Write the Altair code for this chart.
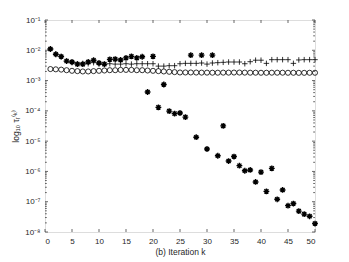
import altair as alt
import pandas as pd

# ---- data ----
k = list(range(1, 51))

star = [1.1e-2, 7.4e-3, 6.2e-3, 4.4e-3, 4.1e-3, 3.5e-3, 3.5e-3, 4.1e-3, 4.7e-3, 3.8e-3,
        3.5e-3, 5.0e-3, 5.1e-3, 4.8e-3, 5.6e-3, 6.3e-3, 5.6e-3, 6.1e-3, 4.2e-4, 6.3e-3,
        1.3e-4, 7.4e-4, 9.8e-5, 8.1e-5, 8.5e-5, 6.2e-5, 6.9e-3, 1.35e-5, 6.9e-3, 5.5e-6,
        6.9e-3, 3.3e-6, 3.2e-5, 2.2e-6, 3.1e-6, 1.55e-6, 1.05e-6, 1.12e-6, 4.5e-7, 9.5e-7,
        2.2e-7, 1.26e-6, 1.2e-7, 2.45e-7, 7.4e-8, 8.7e-8, 4.9e-8, 3.9e-8, 3.3e-8, 1.9e-8]

plus = [1.1e-2, 7.4e-3, 6.2e-3, 4.4e-3, 3.9e-3, 3.6e-3, 3.7e-3, 3.6e-3, 3.9e-3, 3.5e-3,
        3.4e-3, 3.6e-3, 3.5e-3, 3.5e-3, 3.6e-3, 3.5e-3, 3.6e-3, 3.6e-3, 3.6e-3, 3.6e-3,
        3.0e-3, 3.0e-3, 3.1e-3, 3.1e-3, 3.6e-3, 3.7e-3, 3.7e-3, 3.7e-3, 3.8e-3, 3.5e-3,
        3.8e-3, 3.9e-3, 4.0e-3, 4.1e-3, 4.1e-3, 4.1e-3, 3.6e-3, 4.2e-3, 4.7e-3, 4.7e-3,
        3.7e-3, 4.9e-3, 4.9e-3, 4.9e-3, 4.9e-3, 3.7e-3, 4.8e-3, 4.9e-3, 4.9e-3, 4.9e-3]

circ = [2.4e-3, 2.35e-3, 2.3e-3, 2.2e-3, 2.1e-3, 2.05e-3, 2.0e-3, 2.0e-3, 2.05e-3, 2.1e-3,
        2.15e-3, 2.2e-3, 2.2e-3, 2.25e-3, 2.25e-3, 2.25e-3, 2.2e-3, 2.2e-3, 2.15e-3, 2.1e-3,
        2.05e-3, 2.0e-3, 1.95e-3, 1.9e-3, 1.85e-3, 1.85e-3, 1.85e-3, 1.84e-3, 1.83e-3, 1.83e-3,
        1.82e-3, 1.82e-3, 1.83e-3, 1.83e-3, 1.84e-3, 1.84e-3, 1.83e-3, 1.82e-3, 1.82e-3, 1.81e-3,
        1.81e-3, 1.82e-3, 1.82e-3, 1.82e-3, 1.81e-3, 1.81e-3, 1.80e-3, 1.80e-3, 1.81e-3, 1.81e-3]

x_ticks = [0, 5, 10, 15, 20, 25, 30, 35, 40, 45, 50]
y_ticks = [1e-8, 1e-7, 1e-6, 1e-5, 1e-4, 1e-3, 1e-2, 1e-1]
y_tick_labels = ['10⁻⁸', '10⁻⁷', '10⁻⁶', '10⁻⁵', '10⁻⁴', '10⁻³', '10⁻²', '10⁻¹']
y_minor = [m * 10.0 ** e for e in range(-8, -1) for m in range(2, 10)]

x_title = "(b) Iteration k"
y_title = "log₁₀ τᵣ⁽ᵏ⁾"

# ---- chart ----
W, H = 270, 212
AX = "#262626"
FONT = "Liberation Sans"

df = pd.DataFrame({"k": k * 3,
                   "v": star + plus + circ,
                   "s": ["star"] * 50 + ["plus"] * 50 + ["circ"] * 50})

xs = alt.Scale(domain=[0, 50], nice=False, zero=False)
ys = alt.Scale(type="log", domain=[1e-8, 1e-1], nice=False)

label_expr = "[" + ",".join("'%s'" % t for t in y_tick_labels) + "][round(log(datum.value)/LN10)+8]"

xaxis = alt.Axis(values=x_ticks, ticks=False, domain=False, grid=False,
                 labelFontSize=8, labelColor=AX, labelFont=FONT, labelPadding=5,
                 title=x_title, titleFont=FONT, titleFontSize=8.5, titleFontWeight="normal",
                 titleColor=AX, titlePadding=2)
yaxis = alt.Axis(values=y_ticks, ticks=False, domain=False, grid=False,
                 labelExpr=label_expr, labelFontSize=8, labelColor=AX, labelFont=FONT,
                 labelPadding=5,
                 title=y_title, titleFont=FONT, titleFontSize=8.5, titleFontWeight="normal",
                 titleColor=AX, titlePadding=4)

base = alt.Chart(df)

X = alt.X("k:Q", scale=xs, axis=xaxis)
Y = alt.Y("v:Q", scale=ys, axis=yaxis)

circles = base.transform_filter(alt.datum.s == "circ").mark_point(
    shape="circle", filled=False, color="black", strokeWidth=0.8, size=26, opacity=1
).encode(x=X, y=Y)

pluses = base.transform_filter(alt.datum.s == "plus").mark_point(
    shape="M-1,0L1,0M0,-1L0,1", filled=False, color="black", strokeWidth=0.8, size=30, opacity=1
).encode(x=X, y=Y)

stars = base.transform_filter(alt.datum.s == "star").mark_point(
    shape="M0,-1L0,1M-1,0L1,0M-0.7,-0.7L0.7,0.7M-0.7,0.7L0.7,-0.7",
    filled=False, color="black", strokeWidth=1.4, size=34, opacity=1
).encode(x=X, y=Y)

xt = pd.DataFrame({"k": x_ticks})
yt = pd.DataFrame({"v": y_ticks})
ym = pd.DataFrame({"v": y_minor})

def xtick(y0, y1):
    return alt.Chart(xt).mark_rule(color=AX, strokeWidth=0.7).encode(
        x=X, y=alt.value(y0), y2=alt.value(y1))

def ytick(data, x0, x1):
    return alt.Chart(data).mark_rule(color=AX, strokeWidth=0.7).encode(
        y=Y, x=alt.value(x0), x2=alt.value(x1))

ticks = [xtick(H, H - 3), xtick(0, 3),
         ytick(yt, 0, 3), ytick(yt, W, W - 3),
         ytick(ym, 0, 1.8), ytick(ym, W, W - 1.8)]

chart = alt.layer(circles, pluses, stars, *ticks).properties(
    width=W, height=H,
    autosize=alt.AutoSizeParams(type="none"),
    padding={"left": 37, "top": 12, "right": 20, "bottom": 29},
).configure_view(stroke=AX, strokeWidth=0.8).configure(background="white")

chart.save("out.html", embed_options={"renderer": "svg", "actions": False})
